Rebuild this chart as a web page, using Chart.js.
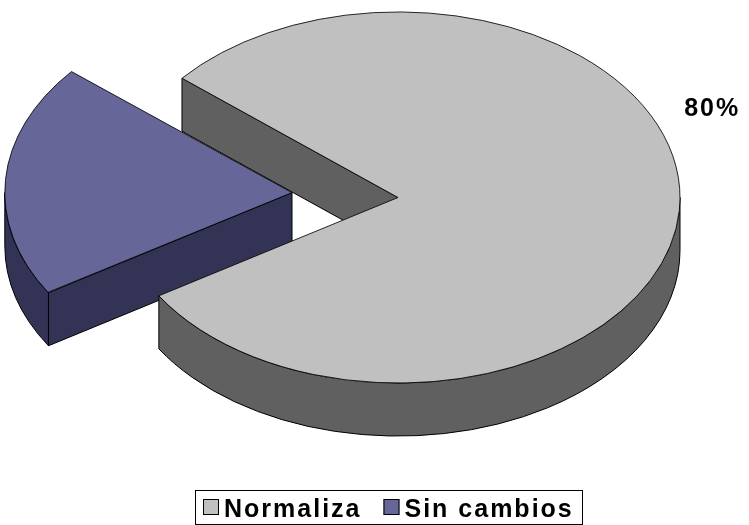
<!DOCTYPE html>
<html>
<head>
<meta charset="utf-8">
<title>Normaliza / Sin cambios</title>
<script src="https://cdn.jsdelivr.net/npm/chart.js@4.4.1/dist/chart.umd.min.js"></script>
<style>
  html, body { margin: 0; padding: 0; background: #ffffff; }
  canvas { display: block; }
</style>
</head>
<body>
<canvas id="pie3d" width="749" height="525"></canvas>
<script>
// ---- data ----
const categories = ['Normaliza', 'Sin cambios'];
const shares = [80, 20];
const topColors = ['#C0C0C0', '#666699'];
const sideColors = ['#606060', '#333355'];
const explodeBy = [0, 425];          // Chart.js arc offset (the arc moves by offset / 4)
const labelledSlices = [0];          // slices that print their percentage

// ---- look of the 3D disc ----
const TILT = 0.658;                  // vertical squash of the disc
const DEPTH = 53;                    // thickness of the disc in px
const FONT = '"Liberation Sans", Arial, sans-serif';

// geometry of one slice in screen space, taken from the arc element
function sliceGeometry(el, cy) {
  const p = el.getProps(['x', 'y', 'startAngle', 'endAngle', 'outerRadius'], true);
  const off = (el.options.offset || 0) / 4;
  const mid = (p.startAngle + p.endAngle) / 2;
  const circ = p.endAngle - p.startAngle;
  const fix = 1 - Math.sin(Math.min(Math.PI, circ));
  const r = p.outerRadius + off * fix;
  const X = p.x + Math.cos(mid) * off;
  const Y = p.y + Math.sin(mid) * off;
  return { cx: X, cy: cy + (Y - cy) * TILT, rx: r, ry: r * TILT, a0: p.startAngle, a1: p.endAngle };
}

// side walls + squash transform for the top faces
const disc3d = {
  id: 'disc3d',
  beforeDatasetsDraw(chart) {
    const ctx = chart.ctx;
    const meta = chart.getDatasetMeta(0);
    const cy = meta.data[0].y;
    const faces = [];
    meta.data.forEach((el, i) => {
      const g = sliceGeometry(el, cy);
      const fill = sideColors[i];
      // curved outer wall, only on the front half (sin > 0)
      for (let n = -1; n <= 2; n++) {
        const s = Math.max(g.a0, 2 * Math.PI * n);
        const e = Math.min(g.a1, 2 * Math.PI * n + Math.PI);
        if (e > s) {
          faces.push({ key: g.cy + g.ry * Math.sin((s + e) / 2), fill, draw(c) {
            c.beginPath();
            c.ellipse(g.cx, g.cy, g.rx, g.ry, 0, s, e, false);
            c.lineTo(g.cx + g.rx * Math.cos(e), g.cy + DEPTH + g.ry * Math.sin(e));
            c.ellipse(g.cx, g.cy + DEPTH, g.rx, g.ry, 0, e, s, true);
            c.closePath();
          }});
        }
      }
      // flat cut faces along the two radii
      const radial = (a) => ({ key: g.cy + g.ry * Math.sin(a) / 2, fill, draw(c) {
        const px = g.cx + g.rx * Math.cos(a), py = g.cy + g.ry * Math.sin(a);
        c.beginPath();
        c.moveTo(g.cx, g.cy);
        c.lineTo(px, py);
        c.lineTo(px, py + DEPTH);
        c.lineTo(g.cx, g.cy + DEPTH);
        c.closePath();
      }});
      if (Math.cos(g.a0) < 0) faces.push(radial(g.a0));
      if (Math.cos(g.a1) > 0) faces.push(radial(g.a1));
    });
    faces.sort((a, b) => a.key - b.key);
    ctx.save();
    ctx.lineWidth = 1;
    ctx.strokeStyle = '#000000';
    ctx.lineJoin = 'round';
    faces.forEach(f => {
      f.draw(ctx);
      ctx.fillStyle = f.fill;
      ctx.fill();
      ctx.stroke();
    });
    ctx.restore();

    // the top faces are drawn by Chart.js inside this squash
    ctx.save();
    ctx.translate(0, cy);
    ctx.scale(1, TILT);
    ctx.translate(0, -cy);
  },
  afterDatasetsDraw(chart) {
    const ctx = chart.ctx;
    ctx.restore();

    // percentage labels
    const meta = chart.getDatasetMeta(0);
    const cy = meta.data[0].y;
    const total = shares.reduce((a, b) => a + b, 0);
    ctx.save();
    ctx.fillStyle = '#000000';
    ctx.font = 'bold 25px ' + FONT;
    if ('letterSpacing' in ctx) ctx.letterSpacing = '2px';
    ctx.textAlign = 'center';
    ctx.textBaseline = 'alphabetic';
    labelledSlices.forEach(i => {
      const g = sliceGeometry(meta.data[i], cy);
      const phi = -23.7 * Math.PI / 180, f = 1.213;
      const x = g.cx + f * g.rx * Math.cos(phi);
      const y = g.cy + f * g.ry * Math.sin(phi) + 9;
      ctx.fillText(Math.round(shares[i] / total * 100) + '%', x + 1, y);
    });
    ctx.restore();
  }
};

// boxed legend under the disc
const boxedLegend = {
  id: 'boxedLegend',
  afterDraw(chart) {
    const ctx = chart.ctx;
    const L = { centerX: 388, top: 490, bottom: 524, swatch: 16, gap: 5, itemGap: 22, pad: 8, baseline: 517 };
    ctx.save();
    ctx.font = 'bold 25px ' + FONT;
    if ('letterSpacing' in ctx) ctx.letterSpacing = '2px';
    const widths = categories.map(t => ctx.measureText(t).width);
    const total = L.pad * 2 + widths.reduce((s, w) => s + L.swatch + L.gap + w, 0) + L.itemGap * (categories.length - 1);
    const left = Math.round(L.centerX - total / 2);
    ctx.lineWidth = 1;
    ctx.strokeStyle = '#000000';
    ctx.strokeRect(left + 0.5, L.top + 0.5, Math.round(total), L.bottom - L.top);
    let x = left + L.pad;
    categories.forEach((t, i) => {
      ctx.fillStyle = topColors[i];
      ctx.fillRect(x, L.baseline - 18, L.swatch, L.swatch);
      ctx.strokeRect(x + 0.5, L.baseline - 18 + 0.5, L.swatch - 1, L.swatch - 1);
      x += L.swatch + L.gap;
      ctx.fillStyle = '#000000';
      ctx.textAlign = 'left';
      ctx.textBaseline = 'alphabetic';
      ctx.fillText(t, x, L.baseline);
      x += widths[i] + L.itemGap;
    });
    ctx.restore();
  }
};

new Chart(document.getElementById('pie3d'), {
  type: 'pie',
  data: {
    labels: categories,
    datasets: [{
      data: shares,
      backgroundColor: topColors,
      borderColor: '#000000',
      borderWidth: 1,
      offset: explodeBy,
      rotation: 310,
      radius: 282,
      cutout: '0%',
      clip: false
    }]
  },
  options: {
    responsive: false,
    animation: false,
    devicePixelRatio: 1,
    events: [],
    layout: { padding: { left: 47, right: 0, top: 0, bottom: 130 } },
    plugins: {
      legend: { display: false },
      tooltip: { enabled: false },
      title: { display: false }
    }
  },
  plugins: [disc3d, boxedLegend]
});
</script>
</body>
</html>
